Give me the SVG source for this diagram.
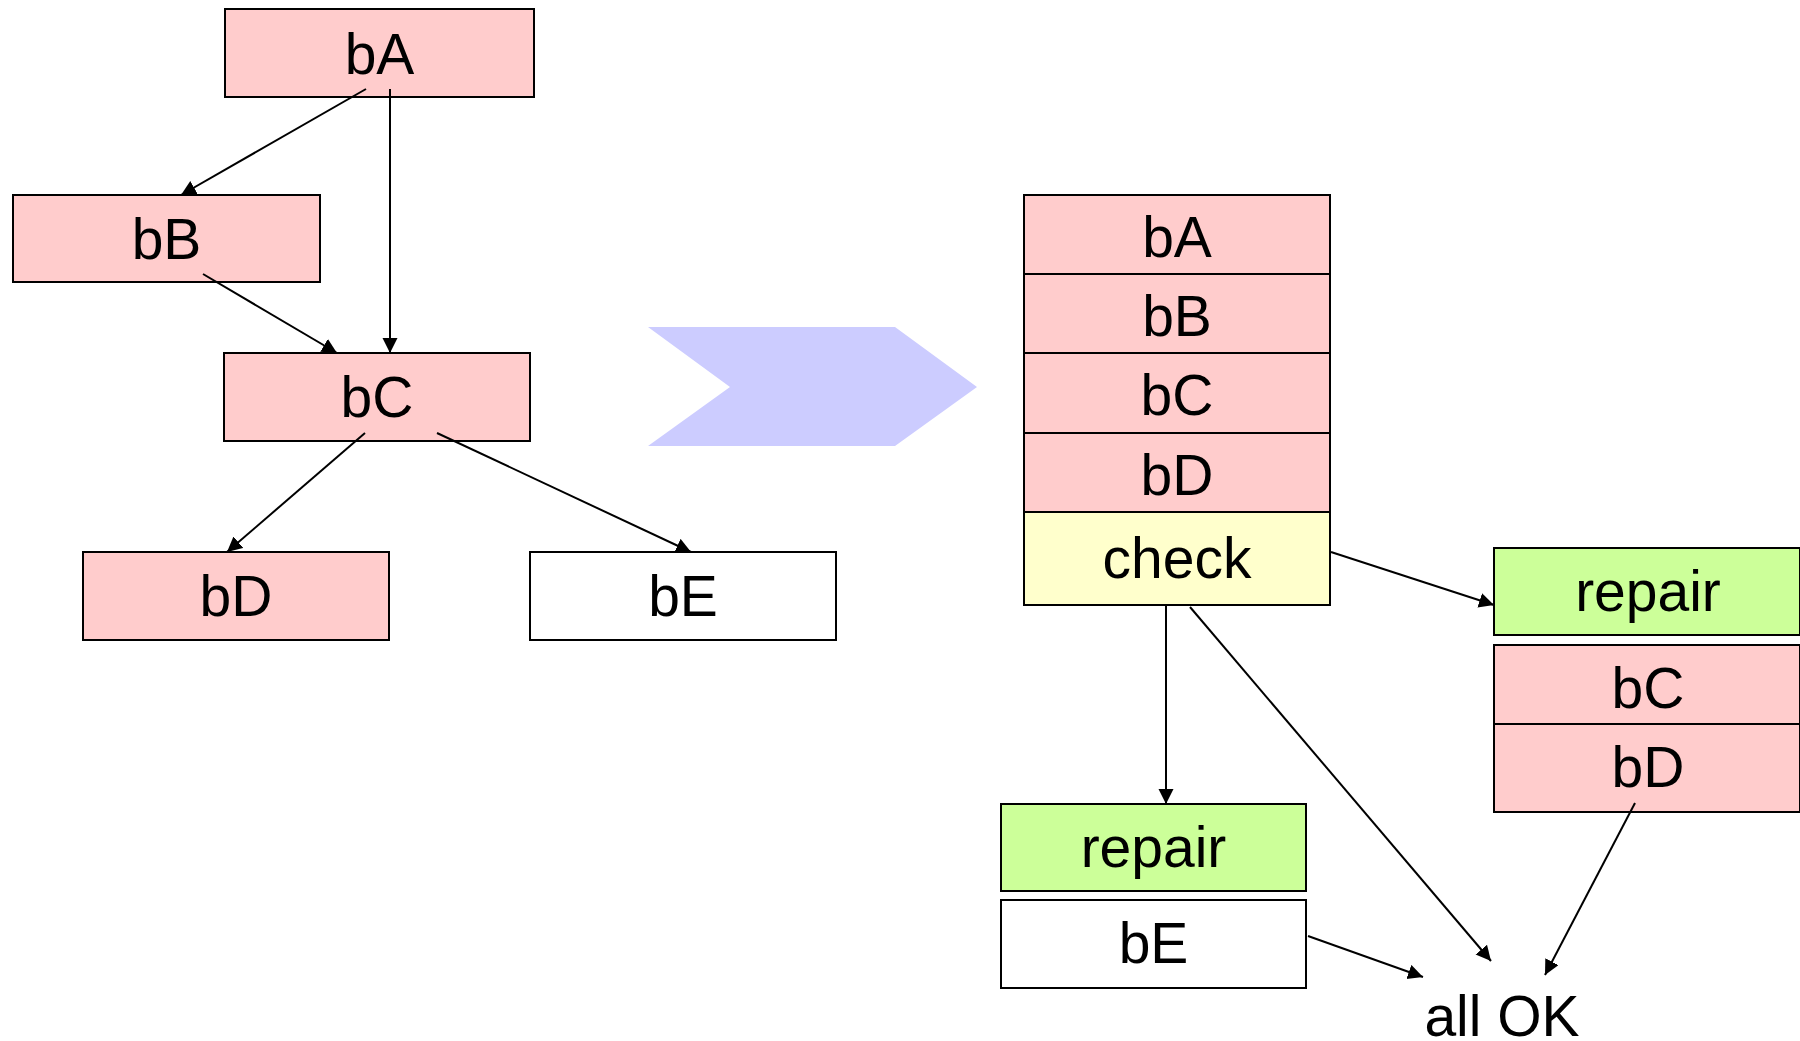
<svg xmlns="http://www.w3.org/2000/svg" width="1800" height="1041" viewBox="0 0 1800 1041">
  <style>
    .box { stroke: #000; stroke-width: 2; }
    .pink { fill: #ffcccc; }
    .yellow { fill: #ffffcc; }
    .green { fill: #ccff99; }
    .white { fill: #ffffff; }
    .lbl { font-family: "Liberation Sans", Arial, sans-serif; font-size: 57px; fill: #000; text-anchor: middle; }
    .edge { stroke: #000; stroke-width: 2; fill: none; marker-end: url(#arrow); }
  </style>
  <defs>
    <marker id="arrow" markerUnits="userSpaceOnUse" markerWidth="16" markerHeight="16" refX="15" refY="7.5" orient="auto">
      <path d="M0,0 L15,7.5 L0,15 z" fill="#000"/>
    </marker>
  </defs>
  <rect width="1800" height="1041" fill="#fff"/>

  <!-- dependency tree -->
  <g id="tree-bA"><rect class="box pink" x="225" y="9" width="309" height="88"/><text class="lbl" x="379.5" y="73.5">bA</text></g>
  <g id="tree-bB"><rect class="box pink" x="13" y="195" width="307" height="87"/><text class="lbl" x="166.5" y="259">bB</text></g>
  <g id="tree-bC"><rect class="box pink" x="224" y="353" width="306" height="88"/><text class="lbl" x="377" y="417">bC</text></g>
  <g id="tree-bD"><rect class="box pink" x="83" y="552" width="306" height="88"/><text class="lbl" x="236" y="616">bD</text></g>
  <g id="tree-bE"><rect class="box white" x="530" y="552" width="306" height="88"/><text class="lbl" x="683" y="616">bE</text></g>

  <!-- transformation chevron -->
  <g id="chevron"><polygon points="648,327 895,327 977,387 895,446 648,446 730,387" fill="#ccccff"/></g>

  <!-- sequential build with check -->
  <g id="seq-bA"><rect class="box pink" x="1024" y="195" width="306" height="79"/><text class="lbl" x="1177" y="257">bA</text></g>
  <g id="seq-bB"><rect class="box pink" x="1024" y="274" width="306" height="79"/><text class="lbl" x="1177" y="336">bB</text></g>
  <g id="seq-bC"><rect class="box pink" x="1024" y="353" width="306" height="80"/><text class="lbl" x="1177" y="415">bC</text></g>
  <g id="seq-bD"><rect class="box pink" x="1024" y="433" width="306" height="79"/><text class="lbl" x="1177" y="495">bD</text></g>
  <g id="check"><rect class="box yellow" x="1024" y="512" width="306" height="93"/><text class="lbl" x="1177" y="578">check</text></g>

  <g id="repair-right"><rect class="box green" x="1494" y="548" width="306" height="87"/><text class="lbl" x="1648" y="611">repair</text></g>
  <g id="redo-bC"><rect class="box pink" x="1494" y="645" width="306" height="79"/><text class="lbl" x="1648" y="708">bC</text></g>
  <g id="redo-bD"><rect class="box pink" x="1494" y="724" width="306" height="88"/><text class="lbl" x="1648" y="787">bD</text></g>

  <g id="repair-left"><rect class="box green" x="1001" y="804" width="305" height="87"/><text class="lbl" x="1153.5" y="867">repair</text></g>
  <g id="redo-bE"><rect class="box white" x="1001" y="900" width="305" height="88"/><text class="lbl" x="1153.5" y="963">bE</text></g>

  <g id="all-ok"><text class="lbl" x="1502" y="1036">all OK</text></g>

  <!-- connectors -->
  <g id="connectors">
    <line class="edge" x1="366" y1="89" x2="181" y2="195"/>
    <line class="edge" x1="390" y1="89" x2="390" y2="353"/>
    <line class="edge" x1="203" y1="274" x2="337" y2="353"/>
    <line class="edge" x1="365" y1="433" x2="227" y2="552"/>
    <line class="edge" x1="437" y1="433" x2="691" y2="552"/>
    <line class="edge" x1="1331" y1="552" x2="1494" y2="605"/>
    <line class="edge" x1="1166" y1="605" x2="1166" y2="804"/>
    <line class="edge" x1="1190" y1="607" x2="1491" y2="961"/>
    <line class="edge" x1="1635" y1="803" x2="1545" y2="975"/>
    <line class="edge" x1="1308" y1="936" x2="1423" y2="977"/>
  </g>
</svg>
